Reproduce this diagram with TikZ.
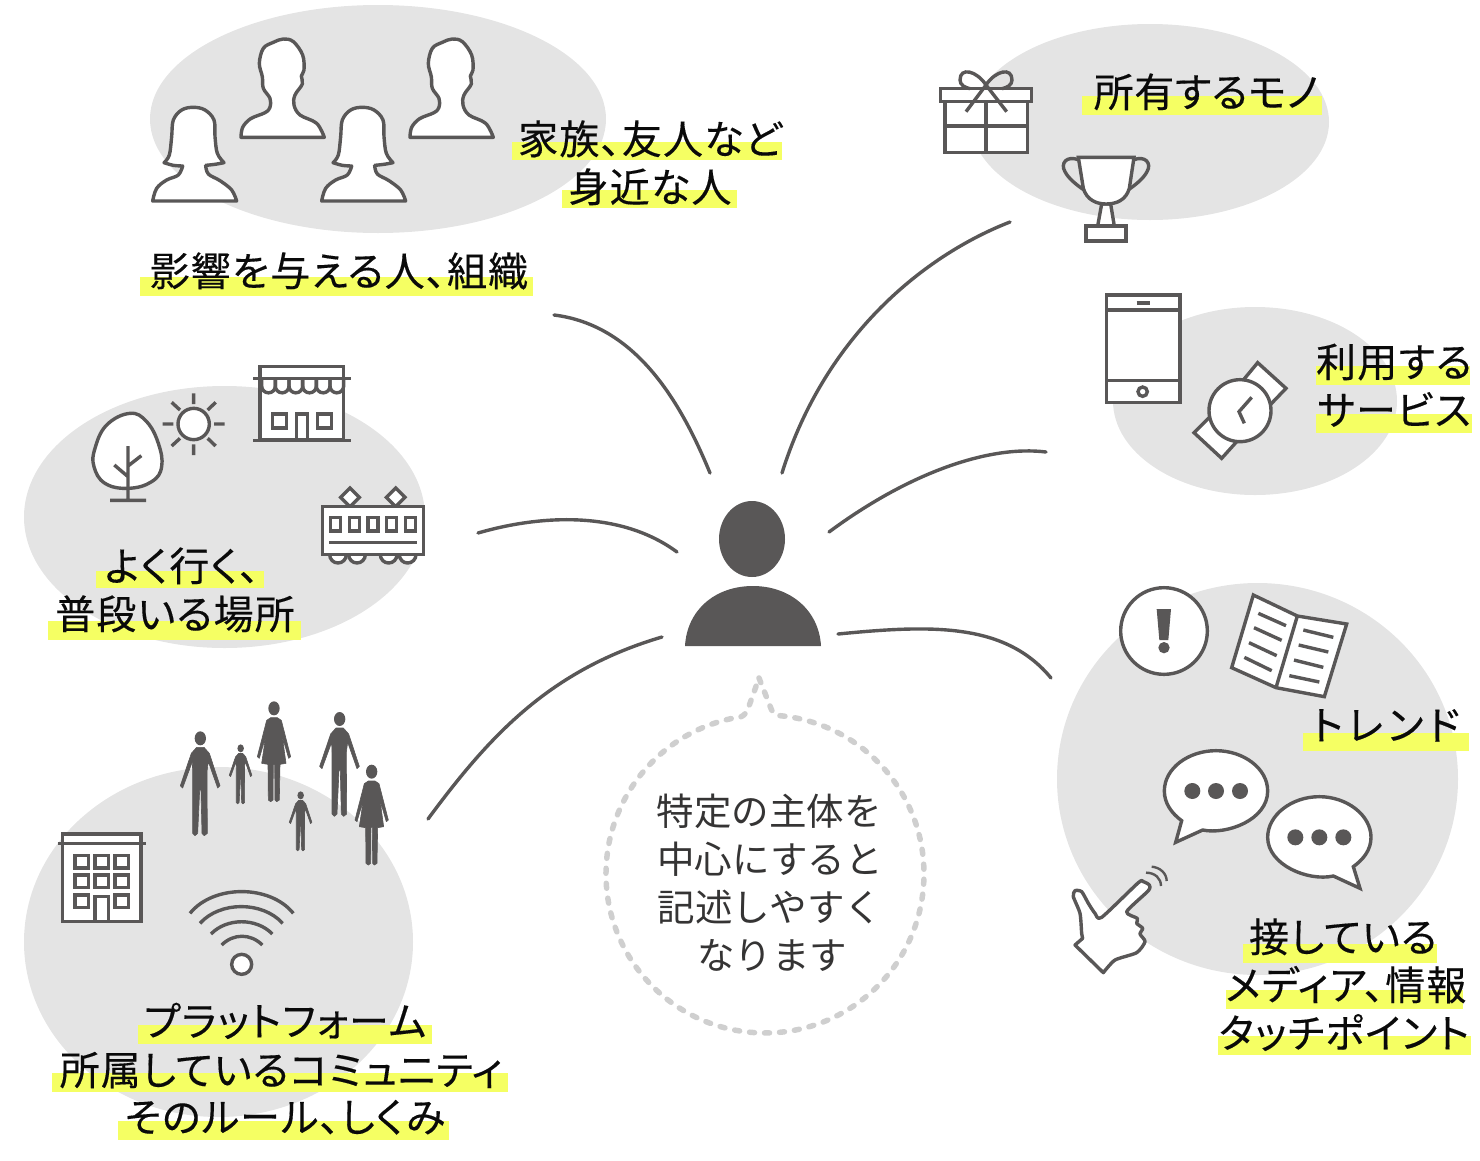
\documentclass[tikz,border=0pt]{standalone}
\usepackage{fontspec}
\newfontfamily\jpfont[RawFeature=+palt,FakeBold=0.3,LetterSpace=3]{Noto Sans CJK JP}
\newfontfamily\jpwide[RawFeature=+palt,FakeBold=0.3,LetterSpace=12]{Noto Sans CJK JP}
\newfontfamily\jpsnug[RawFeature=+palt,FakeBold=0.3,LetterSpace=1.5]{Noto Sans CJK JP}
\newfontfamily\jpmid{Noto Sans CJK JP}
\definecolor{ink}{HTML}{595757}
\definecolor{blob}{HTML}{E4E4E4}
\definecolor{hlcol}{HTML}{F5FF63}
\definecolor{dashc}{HTML}{CFCFCF}
\definecolor{txt}{HTML}{0A0A0A}
\tikzset{
  zoomed/.style 2 args={shift={(#1,#2)},x=0.33333pt,y=-0.33333pt},
  blobfill/.style={fill=blob,draw=none},
  iconline/.style={draw=ink,line width=3.4pt,line join=miter},
  iconfill/.style={draw=ink,fill=white,line width=3.4pt,line join=miter},
  link/.style={draw=ink,line width=3.4pt,line cap=round},
  lbl/.style={font=\jpfont\fontsize{40pt}{40pt}\selectfont,text=txt,anchor=base,inner sep=0pt,yshift=-15pt},
  lblwide/.style={lbl,font=\jpwide\fontsize{40pt}{40pt}\selectfont},
  lblsnug/.style={lbl,font=\jpsnug\fontsize{40pt}{40pt}\selectfont},
  midlbl/.style={font=\jpmid\fontsize{37.5pt}{37.5pt}\selectfont,text=ink!60!black,anchor=base,inner sep=0pt,yshift=-14pt},
}
\newcommand\hlbar[4]{\fill[hlcol] (#1,#2) rectangle (#3,#4);}
\newcommand\zmale[3]{\begin{scope}[shift={(#1,#2)},scale=#3]
  \fill[ink] (0,0) ellipse (17 and 21);
  \fill[ink,draw=ink,line width=.6pt,line join=round] (-11,27) -- (11,27) -- (27,45) -- (59,142) -- (52,149) -- (24,70) -- (20,100) -- (21,285) -- (12,292) -- (5,285) -- (2,155) -- (-2,155) -- (-8,285) -- (-16,292) -- (-23,285) -- (-23,100) -- (-24,70) -- (-53,149) -- (-60,142) -- (-27,45) -- cycle;
\end{scope}}
\newcommand\zfemale[2]{\begin{scope}[shift={(#1,#2)}]
  \fill[ink] (0,0) ellipse (17 and 21);
  \fill[ink,draw=ink,line width=.6pt,line join=round] (-10,28) -- (10,28) -- (22,36) -- (50,145) -- (44,150) -- (25,85) -- (36,165) -- (18,168) -- (16,275) -- (8,280) -- (3,275) -- (2,168) -- (-2,168) -- (-3,275) -- (-10,280) -- (-17,275) -- (-18,168) -- (-37,165) -- (-25,85) -- (-44,150) -- (-50,145) -- (-22,36) -- cycle;
\end{scope}}
\newcommand\zmalebust{\draw[iconfill,line join=round] plot[smooth,tension=.6] coordinates {(303,352) (308,322) (332,296) (375,278) (390,262) (390,235) (370,205) (367,170) (358,130) (370,85) (400,67) (430,57) (460,65) (488,105) (492,150) (484,168) (487,192) (465,225) (462,255) (480,285) (530,310) (553,352)} -- cycle;}
\newcommand\zfemalebust{\draw[iconfill,line join=round] plot[smooth,tension=.6] coordinates {(38,543) (50,505) (80,480) (115,465) (128,438)} -- plot[smooth,tension=.6] coordinates {(128,438) (100,436) (72,428)} -- plot[smooth,tension=.6] coordinates {(72,428) (88,405) (95,350) (100,300) (125,270) (160,262) (195,270) (222,300) (225,350) (232,400) (252,428)} -- plot[smooth,tension=.6] coordinates {(252,428) (225,433) (197,436)} -- plot[smooth,tension=.6] coordinates {(197,436) (205,462) (240,482) (275,510) (290,543)} -- cycle;}
\begin{document}
\begin{tikzpicture}[x=1pt,y=-1pt]
\useasboundingbox (0,0) rectangle (1480,1160);
% grey blobs
\fill[blobfill] (378,119) ellipse (228 and 114);
\fill[blobfill] (1150,122) ellipse (179 and 98);
\fill[blobfill] (1255,401) ellipse (142 and 94);
\fill[blobfill] (224.5,517) ellipse (200.5 and 131);
\fill[blobfill] (218.5,942) ellipse (194.5 and 175);
\fill[blobfill] (1257.5,779) ellipse (200.5 and 196);
% highlights
\hlbar{140}{277}{533}{296}
\hlbar{512}{142}{782}{160}
\hlbar{562}{190}{737}{208}
\hlbar{1082}{96}{1322}{115}
\hlbar{1316}{366}{1470}{385}
\hlbar{1316}{414}{1472}{433}
\hlbar{96}{571}{264}{588}
\hlbar{48}{621}{301}{640}
\hlbar{138}{1025}{432}{1044}
\hlbar{52}{1073}{508}{1092}
\hlbar{118}{1121}{449}{1140}
\hlbar{1303}{733}{1469}{751}
\hlbar{1243}{944}{1437}{963}
\hlbar{1226}{990}{1463}{1009}
\hlbar{1218}{1036}{1471}{1055}
% connector ends
\coordinate (c1a) at (554,315); \coordinate (c1b) at (710,473);
\coordinate (c2a) at (782,473); \coordinate (c2b) at (1010,222);
\coordinate (c3a) at (829,532); \coordinate (c3b) at (1046,452);
\coordinate (c4a) at (838,634); \coordinate (c4b) at (1051,678);
\coordinate (c5a) at (677,552); \coordinate (c5b) at (478,533);
\coordinate (c6a) at (662,637); \coordinate (c6b) at (428,819);
\draw[link] (c1a) .. controls (635,325) and (680,400) .. (c1b);
\draw[link] (c2a) .. controls (825,335) and (925,255) .. (c2b);
\draw[link] (c3a) .. controls (910,472) and (990,445) .. (c3b);
\draw[link] (c4a) .. controls (930,625) and (1005,622) .. (c4b);
\draw[link] (c5a) .. controls (620,510) and (540,515) .. (c5b);
\draw[link] (c6a) .. controls (550,670) and (490,735) .. (c6b);
% central person
\fill[ink] (752,539) ellipse (33 and 38);
\fill[ink] (685,646) .. controls (687,610) and (715,586) .. (753,586) .. controls (790,586) and (819,610) .. (821,646) -- cycle;
% speech balloon
\draw[dashc,line width=5.5pt,line cap=round,line join=round,dash pattern=on 5pt off 10pt]
  (759,678) -- (770,706) .. controls (772,712) and (774,714) .. (778,715.5) arc (274.7:621.3:159) .. controls (745,715) and (747,712) .. (749,706) -- (759,678);
% labels
\node[lbl] (t1) at (339,271) {影響を与える人、組織};
\node[lbl] (t2) at (650,139) {家族、友人など};
\node[lbl] (t3) at (650,187) {身近な人};
\node[lblsnug] (t4) at (1206,92) {所有するモノ};
\node[lbl] (t5) at (1394,362) {利用する};
\node[lbl] (t6) at (1394,410) {サービス};
\node[lbl] (t7) at (182,566) {よく行く、};
\node[lbl] (t8) at (175,614) {普段いる場所};
\node[lbl] (t9) at (285,1021) {プラットフォーム};
\node[lbl] (t10) at (281,1070) {所属しているコミュニティ};
\node[lbl] (t11) at (285,1117) {そのルール、しくみ};
\node[lblwide] (t12) at (1386,725) {トレンド};
\node[lbl] (t13) at (1343,937) {接している};
\node[lbl] (t14) at (1346,985) {メディア、情報};
\node[lbl] (t15) at (1344,1033) {タッチポイント};
\node[midlbl] (m1) at (769,811) {特定の主体を};
\node[midlbl] (m2) at (770,859) {中心にすると};
\node[midlbl] (m3) at (770,907) {記述しやすく};
\node[midlbl] (m4) at (772,955) {なります};
% busts
\begin{scope}[zoomed={140}{20}]
  \zmalebust
  \begin{scope}[shift={(507,0)}]\zmalebust\end{scope}
  \zfemalebust
  \begin{scope}[shift={(507,0)}]\zfemalebust\end{scope}
\end{scope}
% gift and trophy
\begin{scope}[zoomed={920}{50}]
  \draw[iconfill] (75,155) rectangle (322,307);
  \draw[iconline] (75,228) -- (322,228) (198,155) -- (198,307);
  \draw[iconfill] (62,115) rectangle (335,155);
  \draw[iconline] (198,105) .. controls (170,62) and (120,50) .. (120,90) .. controls (120,105) and (135,113) .. (150,116);
  \draw[iconline] (198,105) .. controls (226,62) and (276,50) .. (276,90) .. controls (276,105) and (261,113) .. (246,116);
  \draw[iconline] (138,185) -- (198,105) -- (260,185);
  \draw[iconfill] (545,462) -- (533,528) -- (583,528) -- (572,462) -- cycle;
  \draw[iconfill] (498,528) rectangle (618,573);
  \draw[iconline] (477,330) .. controls (440,315) and (420,340) .. (435,365) .. controls (445,385) and (470,405) .. (492,420);
  \draw[iconline] (639,330) .. controls (676,315) and (696,340) .. (681,365) .. controls (671,385) and (646,405) .. (624,420);
  \draw[iconfill] (475,322) -- (490,415) .. controls (500,450) and (530,462) .. (558,462) .. controls (590,462) and (618,450) .. (628,415) -- (642,322) -- cycle;
\end{scope}
% tablet and watch
\begin{scope}[zoomed={1090}{280}]
  \draw[iconfill] (50,45) rectangle (270,367);
  \draw[iconline] (50,90) -- (270,90) (50,302) -- (270,302) (140,69) -- (180,69);
  \draw[iconline] (158,335) circle (14);
  \draw[iconfill] (503,248) -- (588,325) -- (540,375) -- (460,300) -- cycle;
  \draw[iconfill] (312,458) -- (395,535) -- (440,485) -- (360,410) -- cycle;
  \draw[iconfill] (450,392) circle (93);
  \draw[iconline] (485,352) -- (447,395) -- (463,430);
\end{scope}
% tree, sun, shop, train
\begin{scope}[zoomed={80}{360}]
  \draw[iconfill] plot[smooth cycle,tension=.7] coordinates {(150,160) (200,185) (235,250) (245,320) (215,365) (145,385) (75,370) (42,320) (45,265) (80,195)};
  \draw[iconline] (144,258) -- (144,420) (90,421) -- (198,421) (103,315) -- (144,350) (184,287) -- (144,318);
  \draw[iconfill] (341,192) circle (47);
  \draw[iconline] (341,100) -- (341,132) (341,253) -- (341,285) (248,192) -- (280,192) (402,192) -- (434,192)
    (275,127) -- (300,150) (407,127) -- (383,150) (275,258) -- (300,235) (407,258) -- (383,235);
  \draw[iconfill] (540,20) rectangle (790,240);
  \draw[iconline] (520,55) -- (812,55) (520,242) -- (812,242);
  \foreach \sx in {545,586,627,668,709,750}{
    \draw[iconline] (\sx,55) -- (\sx,78) arc (180:0:20.5) -- ++(0,-23);
  }
  \draw[iconline] (578,162) rectangle (620,204) (712,162) rectangle (755,204);
  \draw[iconline] (650,240) -- (650,162) -- (682,162) -- (682,240);
  \foreach \sx in {774,831,926,983}{
    \draw[iconfill] (\sx-25,584) arc (180:0:25);
  }
  \draw[iconfill] (810,384) -- (838,412) -- (810,440) -- (782,412) -- cycle;
  \draw[iconfill] (947,384) -- (975,412) -- (947,440) -- (919,412) -- cycle;
  \draw[iconfill] (728,440) rectangle (1030,584);
  \foreach \sx in {767,823,879,935,992}{
    \draw[iconline] (\sx-15,472) rectangle (\sx+15,513);
  }
  \draw[iconline] (748,547) -- (1010,547);
\end{scope}
% people, building, wifi
\begin{scope}[zoomed={50}{695}]
  \zmale{451}{130}{1}
  \zmale{869}{72}{1}
  \zmale{572}{160}{.57}
  \zmale{752}{301}{.57}
  \zfemale{672}{40}
  \zfemale{965}{230}
  \draw[iconfill] (37,417) rectangle (273,680);
  \draw[iconline] (23,445) -- (287,445);
  \foreach \wy in {482,540}{
    \foreach \wx in {75,135,195}{
      \draw[iconline] (\wx,\wy) rectangle (\wx+40,\wy+37);
    }
  }
  \draw[iconline] (75,600) rectangle (115,638) (195,600) rectangle (235,638);
  \draw[iconline] (135,680) -- (135,605) -- (175,605) -- (175,680);
  \draw[iconline] (420,655) .. controls (490,568) and (660,568) .. (730,655);
  \draw[iconline] (450,685) .. controls (510,618) and (638,618) .. (698,685);
  \draw[iconline] (483,717) .. controls (530,668) and (620,668) .. (667,717);
  \draw[iconline] (515,750) .. controls (550,715) and (602,715) .. (637,750);
  \draw[iconfill] (575,808) circle (30);
\end{scope}
% alert, book, balloons, hand
\begin{scope}[zoomed={1060}{580}]
  \draw[iconfill] (312,153) circle (130);
  \fill[ink] (290,87) -- (333,87) -- (325,180) -- (298,180) -- cycle;
  \fill[ink] (312,203) circle (17);
  \draw[iconfill] (580,45) -- (712,108) -- (860,132) -- (793,350) -- (648,323) -- (515,263) -- cycle;
  \draw[iconline] (712,108) -- (648,323);
  \draw[iconline] (595,100) -- (678,137) (582,143) -- (665,181) (567,188) -- (650,227) (553,232) -- (635,272)
    (730,150) -- (820,172) (716,195) -- (805,216) (702,240) -- (790,262) (688,287) -- (778,306);
  \draw[iconfill] (347,787) -- (428,750) .. controls (500,765) and (623,720) .. (623,633) .. controls (623,565) and (550,512) .. (468,512) .. controls (385,512) and (313,565) .. (313,633) .. controls (313,670) and (335,700) .. (365,722) -- cycle;
  \foreach \dx in {397,468,540}{\fill[ink] (\dx,633) circle (24);}
  \draw[iconfill] (900,925) -- (820,888) .. controls (745,905) and (623,855) .. (623,772) .. controls (623,705) and (695,650) .. (778,650) .. controls (860,650) and (933,705) .. (933,772) .. controls (933,810) and (910,838) .. (880,860) -- cycle;
  \foreach \dx in {706,778,850}{\fill[ink] (\dx,772) circle (24);}
  \draw[iconfill,line join=round] plot[smooth,tension=.4] coordinates {(130,1178) (165,1140) (230,1118) (255,1085) (240,1062) (248,1045) (230,1030) (232,1015) (200,995) (265,932) (268,915) (250,905) (235,908) (125,1012) (105,1000) (85,970) (65,935) (45,932) (40,950) (60,1000) (65,1060) (68,1075)} -- (45,1095) -- cycle;
  \draw[draw=ink,line width=2.4pt] (258,878) .. controls (285,878) and (303,895) .. (303,918);
  \draw[draw=ink,line width=2.4pt] (275,860) .. controls (300,862) and (320,880) .. (320,903);
\end{scope}
\end{tikzpicture}
\end{document}
